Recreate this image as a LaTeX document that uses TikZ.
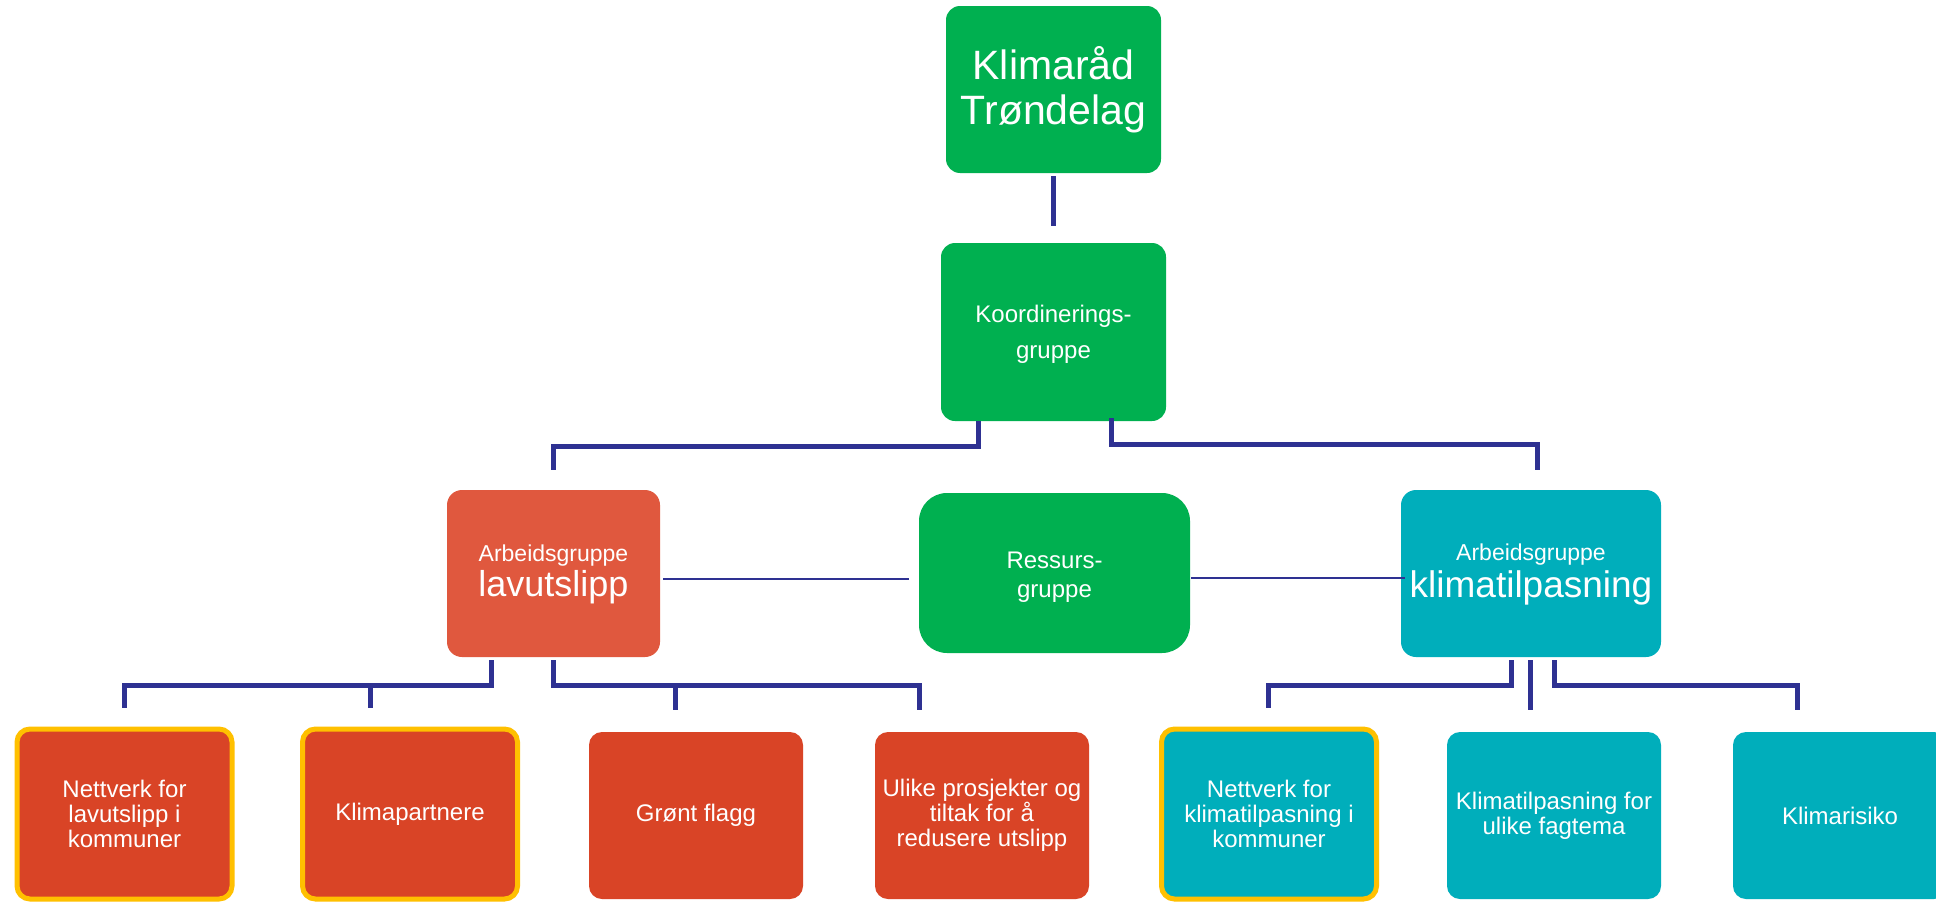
\documentclass[tikz,border=0pt]{standalone}
\usepackage{fontspec}
\setmainfont{Liberation Sans}
\usetikzlibrary{calc}
\definecolor{kgreen}{RGB}{0,176,80}
\definecolor{klav}{RGB}{224,88,62}
\definecolor{kred}{RGB}{217,68,38}
\definecolor{kteal}{RGB}{0,174,187}
\definecolor{knavy}{RGB}{46,49,146}
\definecolor{kyellow}{RGB}{255,192,0}
\begin{document}
\begin{tikzpicture}[x=1pt,y=-1pt,
  base/.style={rectangle, text=white, align=center, inner sep=0pt},
  gbox/.style={base, fill=kgreen, rounded corners=14pt},
  lavbox/.style={base, fill=klav, rounded corners=15pt},
  tealbox/.style={base, fill=kteal, rounded corners=15pt},
  redleaf/.style={base, fill=kred, rounded corners=13pt, minimum width=214pt, minimum height=167pt,
    font=\fontsize{24}{25}\selectfont},
  tealleaf/.style={base, fill=kteal, rounded corners=13pt, minimum width=214pt, minimum height=167pt,
    font=\fontsize{24}{25}\selectfont},
  ring/.style={draw=kyellow, line width=5pt, minimum width=215pt, minimum height=170pt},
  conn/.style={draw=knavy, line width=5pt},
  thinconn/.style={draw=knavy, line width=2.5pt}
]
\clip (0,0) rectangle (1936,902);
\fill[white] (0,0) rectangle (1936,902);

% top levels
\node[gbox, minimum width=215pt, minimum height=167pt, font=\fontsize{41}{45}\selectfont]
  (top) at (1053.5,89.5) {Klimaråd\\Trøndelag};
\node[gbox, minimum width=225pt, minimum height=178pt, font=\fontsize{24}{36}\selectfont]
  (koord) at (1053.5,332) {\rule{0pt}{21.5pt}Koordinerings-\\gruppe};

% middle level
\node[lavbox, minimum width=213pt, minimum height=167pt, font=\fontsize{23}{35}\selectfont]
  (lav) at (553.5,573.5) {\rule{0pt}{19pt}Arbeidsgruppe\\{\fontsize{36}{36}\selectfont lavutslipp}};
\node[gbox, rounded corners=28pt, minimum width=271pt, minimum height=160pt, font=\fontsize{24}{29}\selectfont]
  (res) at (1054.5,573) {\rule{0pt}{24pt}Ressurs-\\gruppe};
\node[tealbox, minimum width=260pt, minimum height=167pt, font=\fontsize{23}{37}\selectfont]
  (kt) at (1531,573.5) {\rule{0pt}{19pt}Arbeidsgruppe\\{\fontsize{37}{37}\selectfont klimatilpasning}};

% bottom level
\node[redleaf, ring] (b1) at (124.5,814) {Nettverk for\\lavutslipp i\\kommuner};
\node[redleaf, ring] (b2) at (410,814) {Klimapartnere};
\node[redleaf] (b3) at (696,815.5) {Grønt flagg};
\node[redleaf] (b4) at (982,815.5) {Ulike prosjekter og\\tiltak for å\\redusere utslipp};
\node[tealleaf, ring] (b5) at (1269,814) {Nettverk for\\klimatilpasning i\\kommuner};
\node[tealleaf] (b6) at (1554,815.5) {Klimatilpasning for\\ulike fagtema};
\node[tealleaf] (b7) at (1840,815.5) {Klimarisiko};

% connectors top
\draw[conn] ($(top.south)+(-0.5,3)$) -- ($(koord.north)+(-0.5,-17)$);
\draw[conn] ($(koord.south west)+(38,0)$) -- ++(0,25) -| ($(lav.north)+(0,-20)$);
\draw[conn] ($(koord.south east)+(-55,-3)$) -- ++(0,26) -| ($(kt.north)+(6,-20)$);

% thin connectors
\draw[thinconn] ($(lav.east)+(3,5.5)$) -- ($(res.west)+(-10,6)$);
\draw[thinconn] ($(res.east)+(1,5)$) -- ($(kt.west)+(4,4.5)$);

% lavutslipp branch
\coordinate (lbus) at ($(lav.south)+(0,28)$);
\coordinate (d1) at ($(b1.north)+(-0.5,-19)$);
\coordinate (d2) at ($(b2.north)+(-40,-19)$);
\coordinate (d3) at ($(b3.north)+(-21,-22)$);
\coordinate (d4) at ($(b4.north)+(-63,-22)$);
\draw[conn] ($(lav.south)+(-62.5,3)$) |- (d1 |- lbus) -- (d1);
\draw[conn] (d2) -- (d2 |- lbus);
\draw[conn] ($(lav.south)+(-0.5,3)$) |- (d4 |- lbus) -- (d4);
\draw[conn] (d3) -- (d3 |- lbus);

% klimatilpasning branch
\coordinate (rbus) at ($(kt.south)+(0,28)$);
\coordinate (d5) at ($(b5.north)+(-1,-19)$);
\coordinate (d6) at ($(b6.north)+(-24,-22)$);
\coordinate (d7) at ($(b7.north)+(-43,-22)$);
\draw[conn] ($(kt.south)+(-20,3)$) |- (d5 |- rbus) -- (d5);
\draw[conn] ($(kt.south)+(-1,3)$) -- (d6);
\draw[conn] ($(kt.south)+(23,3)$) |- (d7 |- rbus) -- (d7);
\end{tikzpicture}
\end{document}
